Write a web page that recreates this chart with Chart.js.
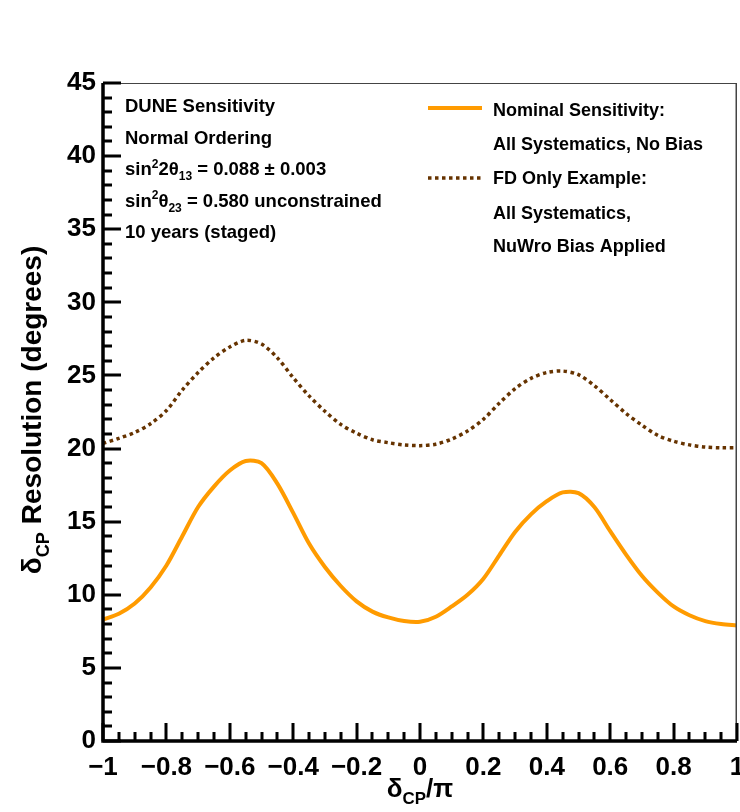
<!DOCTYPE html>
<html>
<head>
<meta charset="utf-8">
<script src="https://cdn.jsdelivr.net/npm/chart.js@4.4.1/dist/chart.umd.min.js"></script>
<style>
body{margin:0;background:#fff;}
#grafico{display:block;}
</style>
</head>
<body>
<canvas id="grafico" width="740" height="812"></canvas>
<script>
// dCP / pi values
const delta = [-1.00,-0.95,-0.90,-0.85,-0.80,-0.75,-0.70,-0.65,-0.60,-0.55,-0.50,-0.45,-0.40,-0.35,-0.30,-0.25,-0.20,-0.15,-0.10,-0.05,
0.00,0.05,0.10,0.15,0.20,0.25,0.30,0.35,0.40,0.45,0.50,0.55,0.60,0.65,0.70,0.75,0.80,0.85,0.90,0.95,1.00];

// resolution in degrees
const nominal = [8.3,8.7,9.4,10.5,12.0,14.0,16.0,17.4,18.5,19.15,19.0,17.6,15.6,13.5,11.9,10.6,9.55,8.85,8.45,8.2,
8.15,8.5,9.2,10.0,11.1,12.7,14.3,15.5,16.4,17.0,16.95,16.0,14.35,12.75,11.3,10.15,9.2,8.6,8.2,8.0,7.9];
const fdOnly = [20.35,20.7,21.1,21.7,22.6,24.0,25.2,26.2,26.95,27.4,27.15,26.2,24.85,23.6,22.55,21.65,21.05,20.6,20.4,20.25,
20.2,20.3,20.65,21.2,22.0,23.1,24.1,24.8,25.2,25.3,25.05,24.3,23.35,22.4,21.6,20.9,20.5,20.25,20.1,20.05,20.05];

// axis ticks
const xTicks = [-1,-0.8,-0.6,-0.4,-0.2,0,0.2,0.4,0.6,0.8,1];
const yTicks = [0,5,10,15,20,25,30,35,40,45];

const textoInfo = [
  [["DUNE Sensitivity"]],
  [["Normal Ordering"]],
  [["sin"],["2","sup"],["2\u03b8"],["13","sub"],[" = 0.088 \u00b1 0.003"]],
  [["sin"],["2","sup"],["\u03b8"],["23","sub"],[" = 0.580 unconstrained"]],
  [["10 years (staged)"]]
];
const leyenda = [
  "Nominal Sensitivity:",
  "All Systematics, No Bias",
  "FD Only Example:",
  "All Systematics,",
  "NuWro Bias Applied"
];

const colorNominal = "#ff9b00";
const colorFD = "#663300";
const FONT = '"Liberation Sans", Arial, Helvetica, sans-serif';

// text with sub/superscripts
function parteFont(size, k){
  let s = (k === "sub" || k === "sup") ? size*0.65 : size;
  return "bold " + s + "px " + FONT;
}
function anchoRich(ctx, partes, size){
  let w = 0;
  partes.forEach(p => { ctx.font = parteFont(size, p[1]); w += ctx.measureText(p[0]).width; });
  return w;
}
function dibujarRich(ctx, partes, x, y, size){
  ctx.textBaseline = "alphabetic";
  ctx.textAlign = "left";
  partes.forEach(p => {
    ctx.font = parteFont(size, p[1]);
    let dy = p[1] === "sub" ? size*0.28 : (p[1] === "sup" ? -size*0.38 : 0);
    ctx.fillText(p[0], x, y + dy);
    x += ctx.measureText(p[0]).width;
  });
}

const decoracion = {
  id: "decoracion",
  afterDraw(chart){
    const ctx = chart.ctx;
    const a = chart.chartArea;
    const sx = chart.scales.x, sy = chart.scales.y;
    ctx.save();

    // frame
    ctx.strokeStyle = "#444";
    ctx.lineWidth = 1;
    ctx.beginPath();
    ctx.moveTo(a.left, a.top + 0.5); ctx.lineTo(a.right, a.top + 0.5);
    ctx.stroke();
    ctx.lineWidth = 1.5;
    ctx.beginPath();
    ctx.moveTo(a.right - 0.75, a.top); ctx.lineTo(a.right - 0.75, a.bottom);
    ctx.stroke();

    // inward ticks
    ctx.strokeStyle = "#000";
    ctx.lineWidth = 3;
    ctx.beginPath();
    for(let i=0;i<=45;i++){
      let py = Math.round(sy.getPixelForValue(i));
      let len = (i % 5 === 0) ? 18 : 9;
      ctx.moveTo(a.left, py); ctx.lineTo(a.left + len, py);
    }
    for(let i=0;i<=40;i++){
      let v = -1 + i*0.05;
      let px = Math.round(sx.getPixelForValue(v));
      let len = (i % 4 === 0) ? 18 : 9;
      ctx.moveTo(px, a.bottom); ctx.lineTo(px, a.bottom - len);
    }
    ctx.stroke();

    // axes
    ctx.lineWidth = 3.5;
    ctx.beginPath();
    ctx.moveTo(a.left, a.top); ctx.lineTo(a.left, a.bottom);
    ctx.lineTo(a.right, a.bottom);
    ctx.stroke();

    ctx.fillStyle = "#000";

    // axis titles
    const tituloY = [["\u03b4"],["CP","sub"],[" Resolution (degrees)"]];
    ctx.save();
    ctx.translate(41, 410);
    ctx.rotate(-Math.PI/2);
    dibujarRich(ctx, tituloY, -anchoRich(ctx, tituloY, 28)/2, 0, 28);
    ctx.restore();

    const tituloX = [["\u03b4"],["CP","sub"],["/\u03c0"]];
    dibujarRich(ctx, tituloX, 420 - anchoRich(ctx, tituloX, 26)/2, 797, 26);

    // info block
    textoInfo.forEach((linea, i) => {
      dibujarRich(ctx, linea, 125, 112 + i*31.5, 18.5);
    });

    // legend
    ctx.lineWidth = 4;
    ctx.strokeStyle = colorNominal;
    ctx.beginPath(); ctx.moveTo(428, 108); ctx.lineTo(482, 108); ctx.stroke();
    ctx.lineWidth = 3.5;
    ctx.strokeStyle = colorFD;
    ctx.setLineDash([3.5, 3.5]);
    ctx.beginPath(); ctx.moveTo(428, 178); ctx.lineTo(482, 178); ctx.stroke();
    ctx.setLineDash([]);
    const yLeyenda = [109, 143, 177, 212, 245];
    leyenda.forEach((t, i) => {
      dibujarRich(ctx, [[t]], 493, yLeyenda[i] + 6.5, 18);
    });

    ctx.restore();
  }
};

new Chart(document.getElementById("grafico"), {
  type: "line",
  data: {
    datasets: [
      {
        label: "Nominal Sensitivity",
        data: delta.map((d, i) => ({x: d, y: nominal[i]})),
        borderColor: colorNominal,
        borderWidth: 4,
        pointRadius: 0,
        tension: 0.3,
        fill: false
      },
      {
        label: "FD Only Example",
        data: delta.map((d, i) => ({x: d, y: fdOnly[i]})),
        borderColor: colorFD,
        borderWidth: 3.5,
        borderDash: [3.5, 3.5],
        pointRadius: 0,
        tension: 0.3,
        fill: false
      }
    ]
  },
  options: {
    responsive: false,
    animation: false,
    layout: {padding: {top: 83, right: 3, left: 0, bottom: 0}},
    plugins: {legend: {display: false}, tooltip: {enabled: false}},
    scales: {
      x: {
        type: "linear",
        min: -1, max: 1,
        grid: {display: false, drawTicks: false},
        border: {display: false},
        afterBuildTicks: s => { s.ticks = xTicks.map(v => ({value: v})); },
        afterFit: s => { s.height = 71; s.paddingLeft = 0; s.paddingRight = 0; },
        ticks: {
          padding: 11,
          color: "#000",
          font: {family: FONT, size: 26, weight: "bold"},
          callback: v => (v < 0 ? "\u2212" : "") + Math.abs(v)
        }
      },
      y: {
        min: 0, max: 45,
        grid: {display: false, drawTicks: false},
        border: {display: false},
        afterBuildTicks: s => { s.ticks = yTicks.map(v => ({value: v})); },
        afterFit: s => { s.width = 103; },
        ticks: {
          padding: 7,
          color: "#000",
          font: {family: FONT, size: 26, weight: "bold"}
        }
      }
    }
  },
  plugins: [decoracion]
});
</script>
</body>
</html>
